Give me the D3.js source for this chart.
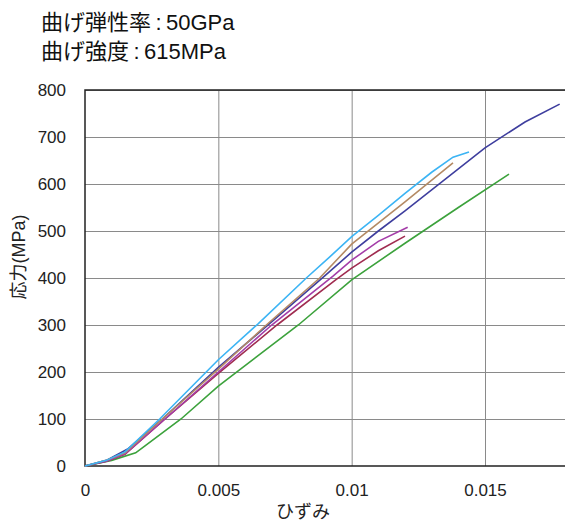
<!DOCTYPE html>
<html lang="ja">
<head>
<meta charset="utf-8">
<title>曲げ試験</title>
<script src="https://d3js.org/d3.v7.min.js"></script>
<style>
  body { margin: 0; background: #fff; }
  text { font-family: "Liberation Sans", Arial, "Noto Sans CJK JP", sans-serif; }
  .axis path, .axis line { stroke: none; }
  .grid line { stroke: #8a8a8a; stroke-width: 1; }
  .grid path { stroke: none; }
</style>
</head>
<body>
<script>
// title lines
var titles = ["曲げ弾性率\u2009:\u200950GPa", "曲げ強度\u2009:\u2009615MPa"];

// tick values
var xTicks = [0, 0.005, 0.01, 0.015];
var xTickLabels = ["0", "0.005", "0.01", "0.015"];
var yTicks = [0, 100, 200, 300, 400, 500, 600, 700, 800];

// specimens, [strain, stress MPa]
var cyan = [[0,0],[0.0008,12],[0.0015,30],[0.0028,100],[0.005,226],[0.0065,303],[0.0083,400],[0.0092,446],[0.01,488],[0.011,533],[0.012,580],[0.013,625],[0.0138,657],[0.0144,668]];
var brown = [[0,0],[0.0008,12],[0.0015,28],[0.0029,100],[0.005,206],[0.0068,300],[0.0088,400],[0.01,472],[0.012,562],[0.0138,645]];
var navy = [[0,0],[0.0008,12],[0.0016,36],[0.0029,100],[0.005,210],[0.0069,302],[0.009,405],[0.01,455],[0.011,500],[0.012,543],[0.015,677],[0.0165,732],[0.0178,770]];
var magenta = [[0,0],[0.0008,10],[0.0015,26],[0.003,100],[0.005,200],[0.007,300],[0.0093,404],[0.01,438],[0.011,478],[0.0121,508]];
var darkred = [[0,0],[0.0008,10],[0.0015,25],[0.003,100],[0.005,197],[0.0072,300],[0.0094,396],[0.01,421],[0.011,458],[0.012,489]];
var green = [[0,0],[0.001,12],[0.0019,28],[0.00225,43],[0.0036,100],[0.005,170],[0.008,300],[0.01,396],[0.012,474],[0.014,550],[0.0159,621]];

var series = [
  {data: green, color: "#3ca23c"},
  {data: darkred, color: "#a02c50"},
  {data: magenta, color: "#a43ca8"},
  {data: navy, color: "#3e3e9e"},
  {data: brown, color: "#b48a64"},
  {data: cyan, color: "#3cb4f4"}
];

var w = 565, h = 523;
var padL = 85, padR = 565, padT = 90, padB = 466;

var svg = d3.select("body").append("svg")
  .attr("width", w)
  .attr("height", h);

var xScale = d3.scaleLinear().domain([0, 0.018]).range([padL, padR]);
var yScale = d3.scaleLinear().domain([0, 800]).range([padB, padT]);

// grid
svg.append("g")
  .attr("class", "grid")
  .attr("transform", "translate(0," + padB + ")")
  .call(d3.axisBottom(xScale).tickValues(xTicks.slice(1)).tickSize(-(padB - padT)).tickFormat(""));
svg.append("g")
  .attr("class", "grid")
  .attr("transform", "translate(" + padL + ",0)")
  .call(d3.axisLeft(yScale).tickValues(yTicks.slice(1)).tickSize(-(padR - padL)).tickFormat(""));

// frame: left, bottom, top
svg.append("path")
  .attr("d", "M" + padR + "," + padT + "H" + padL + "V" + padB + "H" + padR)
  .attr("fill", "none")
  .attr("stroke", "#222")
  .attr("stroke-width", 1.5);

// tick labels
svg.append("g")
  .attr("class", "axis")
  .attr("transform", "translate(0," + padB + ")")
  .call(d3.axisBottom(xScale).tickValues(xTicks).tickSize(0).tickPadding(18)
    .tickFormat(function(d, i) { return xTickLabels[i]; }))
  .call(function(g) { g.selectAll("text").attr("font-size", 17).attr("fill", "#222").attr("font-family", null); });

svg.append("g")
  .attr("class", "axis")
  .attr("transform", "translate(" + padL + ",0)")
  .call(d3.axisLeft(yScale).tickValues(yTicks).tickSize(0).tickPadding(19))
  .call(function(g) { g.selectAll("text").attr("font-size", 17).attr("fill", "#222").attr("font-family", null); });

// lines
var line = d3.line()
  .x(function(d) { return xScale(d[0]); })
  .y(function(d) { return yScale(d[1]); });

svg.append("g")
  .selectAll("path")
  .data(series)
  .enter()
  .append("path")
  .attr("d", function(s) { return line(s.data); })
  .attr("fill", "none")
  .attr("stroke", function(s) { return s.color; })
  .attr("stroke-width", 1.6);

// axis labels
svg.append("text")
  .attr("x", 303)
  .attr("y", 518)
  .attr("text-anchor", "middle")
  .attr("font-size", 18)
  .attr("fill", "#222")
  .text("ひずみ");

svg.append("text")
  .attr("transform", "translate(25,257) rotate(-90)")
  .attr("text-anchor", "middle")
  .attr("font-size", 18)
  .attr("fill", "#222")
  .text("応力(MPa)");

// titles
svg.append("g")
  .selectAll("text")
  .data(titles)
  .enter()
  .append("text")
  .attr("x", 41)
  .attr("y", function(d, i) { return 30 + i * 29; })
  .attr("font-size", 22)
  .attr("fill", "#111")
  .text(function(d) { return d; });
</script>
</body>
</html>
